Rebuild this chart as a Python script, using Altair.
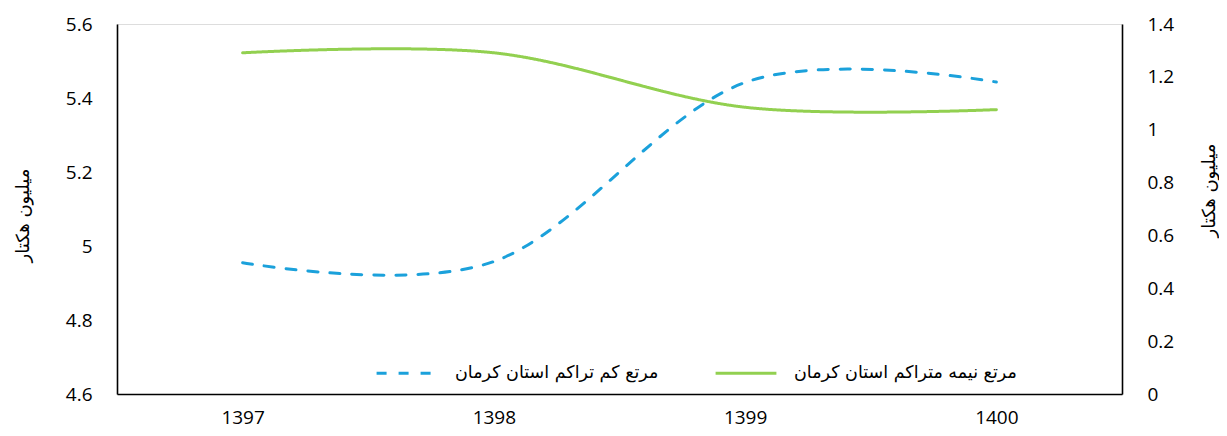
import altair as alt
import pandas as pd

years = [1397, 1398, 1399, 1400]
low_density = [4.955, 4.958, 5.442, 5.443]      # left axis, million ha
semi_dense = [1.291, 1.291, 1.085, 1.076]       # right axis, million ha
series_names = ["مرتع کم تراکم استان کرمان", "مرتع نیمه متراکم استان کرمان"]
left_ticks = [4.6, 4.8, 5.0, 5.2, 5.4, 5.6]
right_ticks = [0, 0.2, 0.4, 0.6, 0.8, 1.0, 1.2, 1.4]
axis_title = "میلیون هکتار"

df_low = pd.DataFrame({"year": years, "value": low_density, "series": series_names[0]})
df_semi = pd.DataFrame({"year": years, "value": semi_dense, "series": series_names[1]})

NUM_FONT = "Open Sans"
FA_FONT = "DejaVu Sans"

x_enc = alt.X(
    "year:Q",
    scale=alt.Scale(domain=[1396.5, 1400.5], nice=False, zero=False),
    axis=alt.Axis(values=years, format="d", title=None, grid=False, ticks=False,
                  labelPadding=14, labelFontSize=19, labelFont=NUM_FONT, labelColor="#000",
                  domainColor="#000", domainWidth=1.6, labelFlush=False),
)

color_scale = alt.Scale(domain=series_names, range=["#1BA1DB", "#92D050"])
dash_scale = alt.Scale(domain=series_names, range=[[10, 12], [1, 0]])

legend = alt.Legend(
    title=None, orient="none", direction="horizontal", legendX=258, legendY=317,
    symbolType="stroke", symbolSize=3700, symbolStrokeWidth=3,
    labelFont=FA_FONT, labelFontSize=17.5, labelColor="#000", labelOffset=16,
    columnPadding=50, labelLimit=400,
)

low = alt.Chart(df_low).mark_line(
    interpolate="cardinal", strokeWidth=3, strokeCap="round"
).encode(
    x=x_enc,
    y=alt.Y("value:Q",
            scale=alt.Scale(domain=[4.6, 5.6], nice=False, zero=False),
            axis=alt.Axis(values=left_ticks, format="~g", orient="left", grid=False, ticks=False,
                          labelPadding=25, labelFontSize=19, labelFont=NUM_FONT, labelColor="#000",
                          domainColor="#000", domainWidth=1.6,
                          title=axis_title, titleFont=FA_FONT, titleFontSize=18, titleFontWeight="normal",
                          titleColor="#000", titleAngle=270, titleX=-94, titleY=191,
                          titleAlign="center", titleBaseline="middle")),
    color=alt.Color("series:N", scale=color_scale, legend=legend),
    strokeDash=alt.StrokeDash("series:N", scale=dash_scale, legend=legend),
)

semi = alt.Chart(df_semi).mark_line(
    interpolate="cardinal", strokeWidth=3, strokeCap="round"
).encode(
    x=x_enc,
    y=alt.Y("value:Q",
            scale=alt.Scale(domain=[0, 1.4], nice=False, zero=False),
            axis=alt.Axis(values=right_ticks, format="~g", orient="right", grid=False, ticks=False,
                          labelPadding=25, labelFontSize=19, labelFont=NUM_FONT, labelColor="#000",
                          domainColor="#000", domainWidth=1.6,
                          title=axis_title, titleFont=FA_FONT, titleFontSize=18, titleFontWeight="normal",
                          titleColor="#000", titleAngle=270, titleX=87, titleY=166,
                          titleAlign="center", titleBaseline="middle")),
    color=alt.Color("series:N", scale=color_scale, legend=legend),
    strokeDash=alt.StrokeDash("series:N", scale=dash_scale, legend=legend),
)

chart = alt.layer(low, semi).resolve_scale(y="independent").properties(
    width=1005, height=370,
    autosize=alt.AutoSizeParams(type="none"),
    padding={"left": 109, "top": 16, "right": 97, "bottom": 34},
).configure_view(stroke=None).configure(background="white")

chart.save("out.html", embed_options={"renderer": "svg", "actions": False})
